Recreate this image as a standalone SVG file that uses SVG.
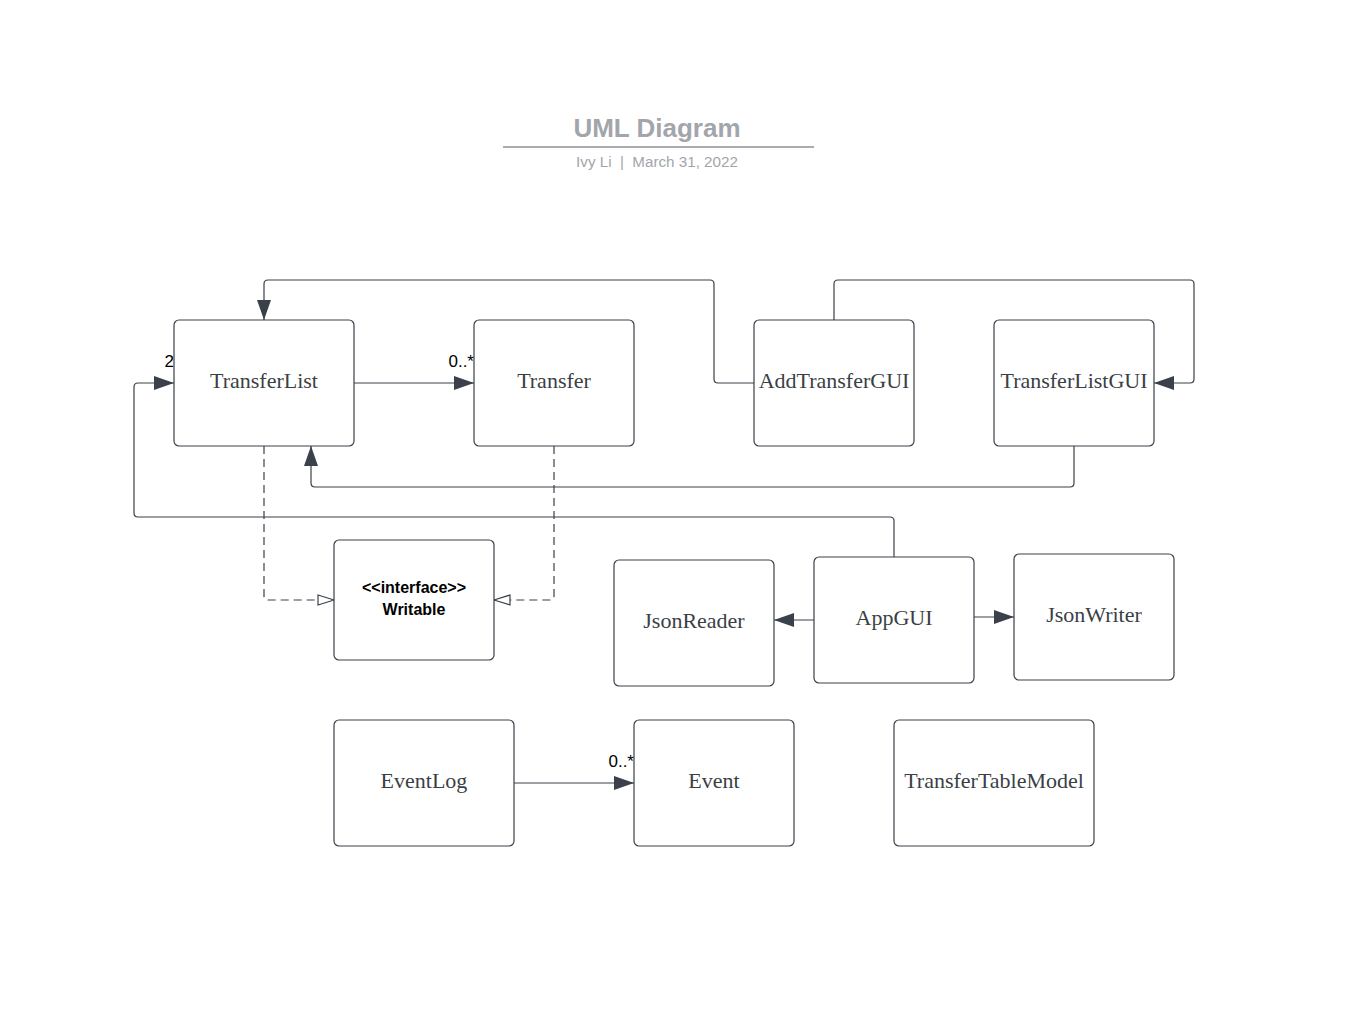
<svg xmlns="http://www.w3.org/2000/svg" width="1360" height="1026" viewBox="0 0 1360 1026">
<style>
.box{fill:#ffffff;stroke:#3a414a;stroke-width:1.2}
.lbl{font-family:"Liberation Serif",serif;font-size:22px;fill:#3a3f45;text-anchor:middle}
.ln{fill:none;stroke:#3a414a;stroke-width:1.2}
.dash{fill:none;stroke:#3a414a;stroke-width:1.2;stroke-dasharray:8,5}
.mult{font-family:"Liberation Sans",sans-serif;font-size:17px;fill:#000;text-anchor:end}
</style>
<defs>
<marker id="fa" viewBox="0 0 20 14" refX="20" refY="7" markerWidth="20" markerHeight="14" markerUnits="userSpaceOnUse" orient="auto">
<path d="M0,0 L20,7 L0,14 Z" fill="#3a414a"/>
</marker>
<marker id="ha" viewBox="0 0 18 12" refX="17" refY="6" markerWidth="18" markerHeight="12" markerUnits="userSpaceOnUse" orient="auto">
<path d="M1,1 L17,6 L1,11 Z" fill="#ffffff" stroke="#3a414a" stroke-width="1.2"/>
</marker>
</defs>
<rect width="1360" height="1026" fill="#ffffff"/>
<g id="title">
<text x="657" y="137" font-family="Liberation Sans,sans-serif" font-size="26" font-weight="bold" fill="#a2a6ab" text-anchor="middle">UML Diagram</text>
<line x1="503" y1="147" x2="814" y2="147" stroke="#a9adb2" stroke-width="2"/>
<text x="657" y="167" font-family="Liberation Sans,sans-serif" font-size="15.2" fill="#a2a6ab" text-anchor="middle" xml:space="preserve">Ivy Li  |  March 31, 2022</text>
</g>
<g id="connectors">
<path class="ln" d="M354,383 L474,383" marker-end="url(#fa)"/>
<path class="ln" d="M754,383 L718,383 Q714,383 714,379 L714,284 Q714,280 710,280 L268,280 Q264,280 264,284 L264,320" marker-end="url(#fa)"/>
<path class="ln" d="M834,320 L834,284 Q834,280 838,280 L1190,280 Q1194,280 1194,284 L1194,379 Q1194,383 1190,383 L1154,383" marker-end="url(#fa)"/>
<path class="ln" d="M1074,446 L1074,483 Q1074,487 1070,487 L315,487 Q311,487 311,483 L311,446" marker-end="url(#fa)"/>
<path class="ln" d="M894,557 L894,521 Q894,517 890,517 L138,517 Q134,517 134,513 L134,387 Q134,383 138,383 L174,383" marker-end="url(#fa)"/>
<path class="dash" d="M264,446 L264,596 Q264,600 268,600 L334,600" marker-end="url(#ha)"/>
<path class="dash" d="M554,446 L554,596 Q554,600 550,600 L494,600" marker-end="url(#ha)"/>
<path class="ln" d="M814,620 L774,620" marker-end="url(#fa)"/>
<path class="ln" d="M974,617 L1014,617" marker-end="url(#fa)"/>
<path class="ln" d="M514,783 L634,783" marker-end="url(#fa)"/>
<text class="mult" x="474" y="367">0..*</text>
<text class="mult" x="174" y="367">2</text>
<text class="mult" x="634" y="767">0..*</text>
</g>
<g id="TransferList"><rect class="box" x="174" y="320" width="180" height="126" rx="5"/><text class="lbl" x="264" y="388">TransferList</text></g>
<g id="Transfer"><rect class="box" x="474" y="320" width="160" height="126" rx="5"/><text class="lbl" x="554" y="388">Transfer</text></g>
<g id="AddTransferGUI"><rect class="box" x="754" y="320" width="160" height="126" rx="5"/><text class="lbl" x="834" y="388">AddTransferGUI</text></g>
<g id="TransferListGUI"><rect class="box" x="994" y="320" width="160" height="126" rx="5"/><text class="lbl" x="1074" y="388">TransferListGUI</text></g>
<g id="Writable"><rect class="box" x="334" y="540" width="160" height="120" rx="5"/>
<text x="414" y="593" font-family="Liberation Sans,sans-serif" font-size="16" font-weight="bold" fill="#000" text-anchor="middle">&lt;&lt;interface&gt;&gt;</text>
<text x="414" y="615" font-family="Liberation Sans,sans-serif" font-size="16" font-weight="bold" fill="#000" text-anchor="middle">Writable</text></g>
<g id="JsonReader"><rect class="box" x="614" y="560" width="160" height="126" rx="5"/><text class="lbl" x="694" y="628">JsonReader</text></g>
<g id="AppGUI"><rect class="box" x="814" y="557" width="160" height="126" rx="5"/><text class="lbl" x="894" y="625">AppGUI</text></g>
<g id="JsonWriter"><rect class="box" x="1014" y="554" width="160" height="126" rx="5"/><text class="lbl" x="1094" y="622">JsonWriter</text></g>
<g id="EventLog"><rect class="box" x="334" y="720" width="180" height="126" rx="5"/><text class="lbl" x="424" y="788">EventLog</text></g>
<g id="Event"><rect class="box" x="634" y="720" width="160" height="126" rx="5"/><text class="lbl" x="714" y="788">Event</text></g>
<g id="TransferTableModel"><rect class="box" x="894" y="720" width="200" height="126" rx="5"/><text class="lbl" x="994" y="788">TransferTableModel</text></g>
</svg>
